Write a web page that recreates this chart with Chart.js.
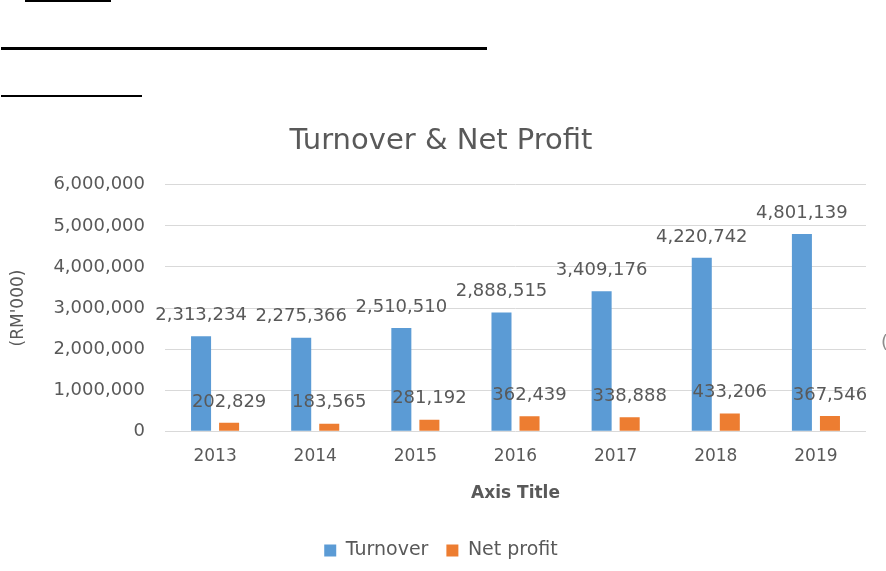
<!DOCTYPE html>
<html>
<head>
<meta charset="utf-8">
<script src="https://cdn.jsdelivr.net/npm/chart.js@4.4.1/dist/chart.umd.min.js"></script>
<style>
  html, body { margin: 0; padding: 0; background: #fff; }
  #wrap { position: relative; width: 886px; height: 571px; overflow: hidden; }
  #chart { position: absolute; left: 0; top: 0; }
  .rule { position: absolute; background: #000; }
  .cut { position: absolute; left: 881px; top: 331px; color: #8c8c8c; font: 18px "DejaVu Sans"; }
</style>
</head>
<body>
<div id="wrap">
  <div class="rule" style="left:25px;top:0;width:86px;height:2px"></div>
  <div class="rule" style="left:1px;top:47px;width:486px;height:3px"></div>
  <div class="rule" style="left:1px;top:95px;width:141px;height:2px"></div>
  <canvas id="chart" width="886" height="571"></canvas>
  <span class="cut">(</span>
</div>
<script>
const years = ["2013", "2014", "2015", "2016", "2017", "2018", "2019"];
const turnover = [2313234, 2275366, 2510510, 2888515, 3409176, 4220742, 4801139];
const netProfit = [202829, 183565, 281192, 362439, 338888, 433206, 367546];

const TEXT = "#595959";
const FONT = "DejaVu Sans";

function fmt(v) {
  return Number(v).toLocaleString("en-US");
}

// Draw value labels above each bar
const barLabels = {
  id: "barLabels",
  afterDatasetsDraw(chart) {
    const ctx = chart.ctx;
    ctx.save();
    ctx.font = "18px '" + FONT + "'";
    ctx.fillStyle = TEXT;
    ctx.textAlign = "center";
    ctx.textBaseline = "middle";
    chart.data.datasets.forEach(function (ds, i) {
      const meta = chart.getDatasetMeta(i);
      meta.data.forEach(function (bar, j) {
        ctx.fillText(fmt(ds.data[j]), bar.x, bar.y - 21);
      });
    });
    ctx.restore();
  },
};

const ctx = document.getElementById("chart").getContext("2d");
new Chart(ctx, {
  type: "bar",
  data: {
    labels: years,
    datasets: [
      {
        label: "Turnover",
        data: turnover,
        backgroundColor: "#5B9BD5",
        categoryPercentage: 0.56,
        barPercentage: 0.714,
      },
      {
        label: "Net profit",
        data: netProfit,
        backgroundColor: "#ED7D31",
        categoryPercentage: 0.56,
        barPercentage: 0.714,
      },
    ],
  },
  options: {
    responsive: false,
    animation: false,
    layout: {
      padding: { top: 124, right: 20, left: 16, bottom: 1 },
    },
    plugins: {
      title: {
        display: true,
        text: "Turnover & Net Profit",
        color: TEXT,
        font: { family: FONT, size: 29, weight: "normal" },
        padding: { top: 0, bottom: 26 },
      },
      legend: {
        position: "bottom",
        labels: {
          color: TEXT,
          font: { family: FONT, size: 19 },
          boxWidth: 12,
          boxHeight: 12,
          padding: 18,
        },
      },
      tooltip: { enabled: false },
    },
    scales: {
      x: {
        grid: { display: false },
        border: { display: false },
        ticks: {
          color: TEXT,
          padding: 7,
          font: { family: FONT, size: 17 },
        },
        title: {
          display: true,
          text: "Axis Title",
          color: TEXT,
          font: { family: FONT, size: 17, weight: "bold" },
          padding: { top: 10, bottom: 19 },
        },
      },
      y: {
        min: 0,
        max: 6000000,
        border: { display: false },
        grid: { color: "#D9D9D9", drawTicks: false },
        ticks: {
          stepSize: 1000000,
          color: TEXT,
          padding: 20,
          font: { family: FONT, size: 18 },
          callback: function (v) {
            return fmt(v);
          },
        },
        title: {
          display: true,
          text: "(RM'000)",
          color: TEXT,
          font: { family: FONT, size: 17 },
          padding: { top: -8, bottom: 5 },
        },
      },
    },
  },
  plugins: [barLabels],
});
</script>
</body>
</html>
